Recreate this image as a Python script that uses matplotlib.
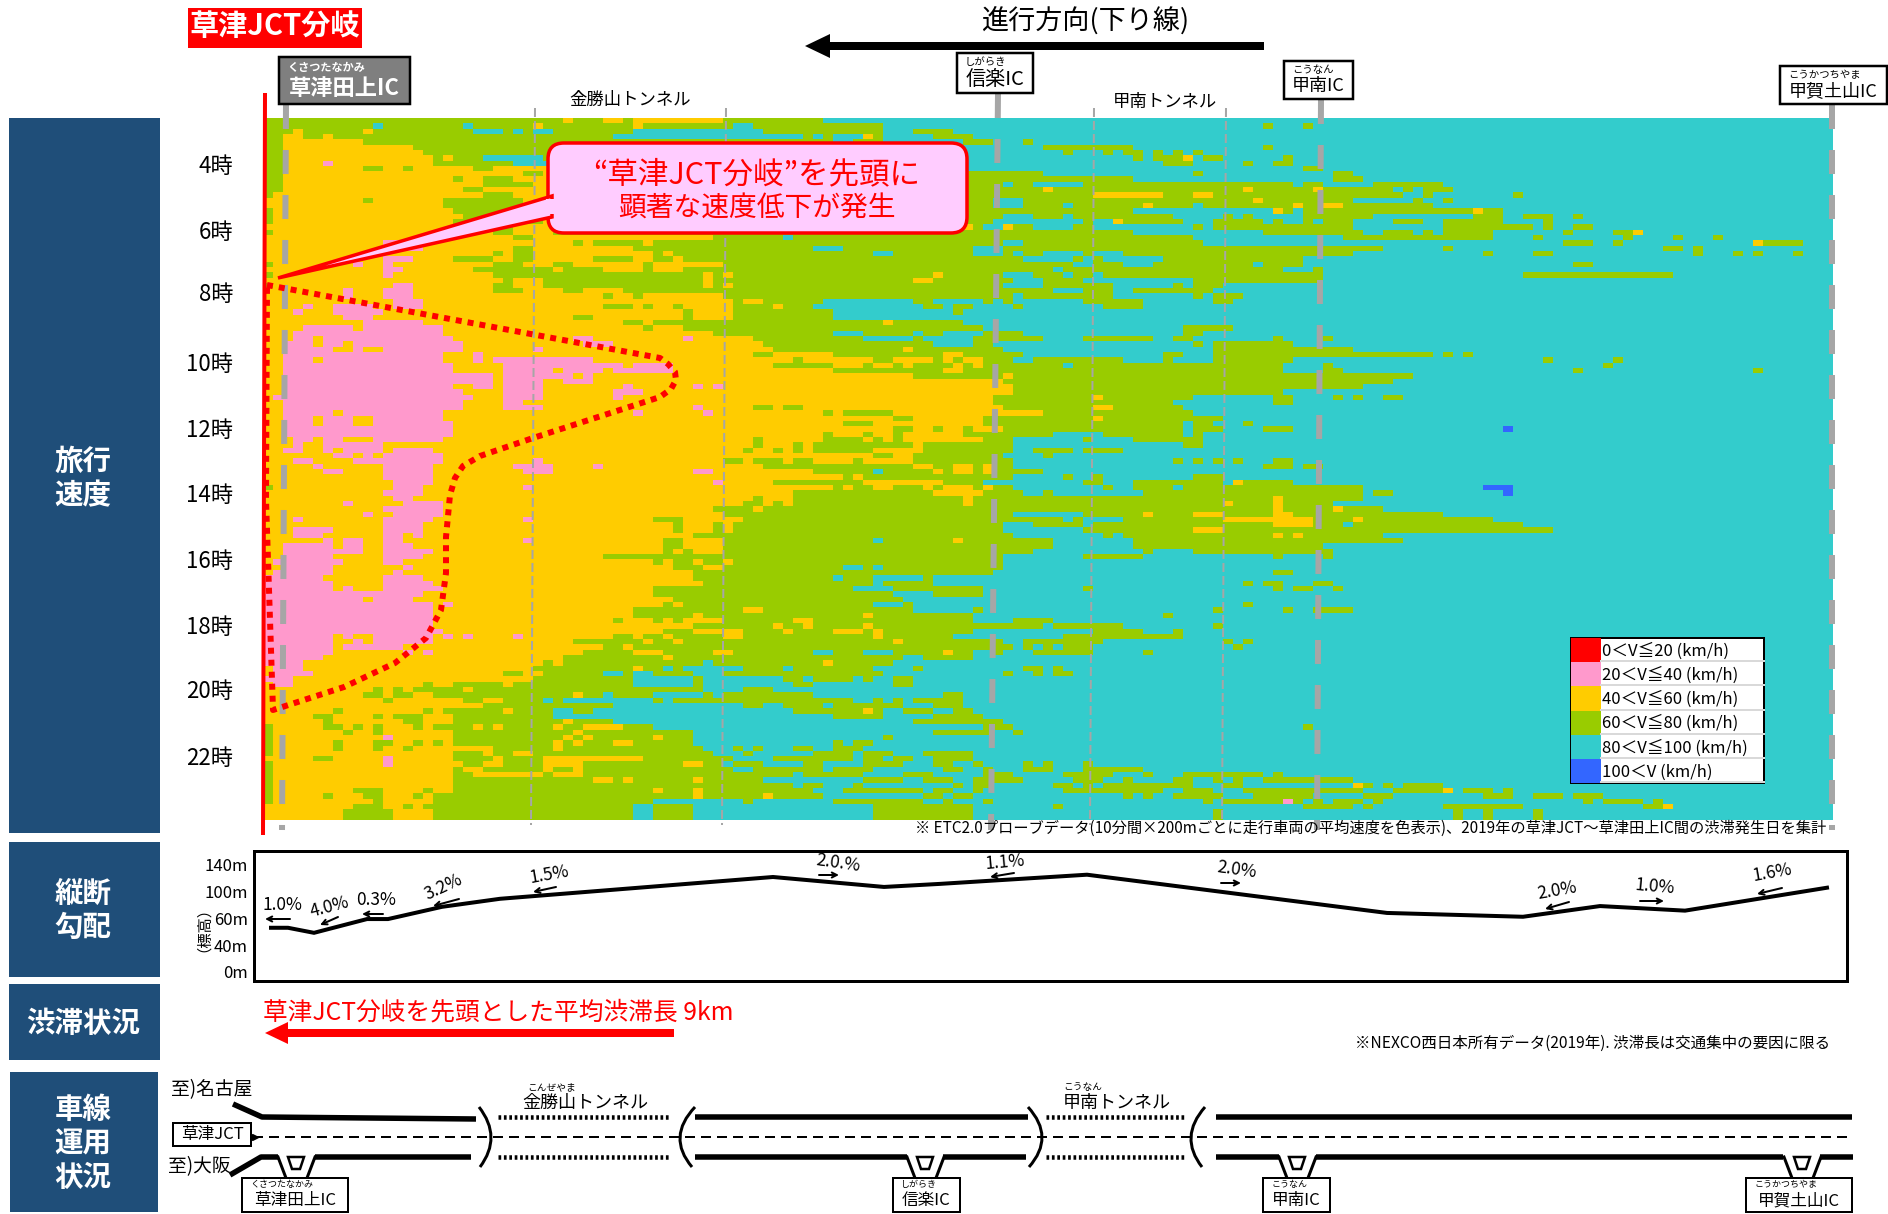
import numpy as np
import matplotlib
matplotlib.use('Agg')
import matplotlib.pyplot as plt
from matplotlib.colors import ListedColormap
from matplotlib.patches import Rectangle, FancyBboxPatch, Polygon, PathPatch
from matplotlib.path import Path

plt.rcParams['font.family'] = ['Noto Sans CJK JP', 'DejaVu Sans']

# ---- data ----
SPEED_CLASSES = ['R', 'P', 'Y', 'G', 'C', 'B']
SPEED_COLORS = ['#FF0000', '#FF99CC', '#FFCC00', '#99CC00', '#33CCCC', '#3366FF']
LEGEND_LABELS = ['0＜V≦20 (km/h)', '20＜V≦40 (km/h)', '40＜V≦60 (km/h)',
                 '60＜V≦80 (km/h)', '80＜V≦100 (km/h)', '100＜V (km/h)']
N_COLS = 157

# each row: speed class + first column of that run
SPEED_ROWS = [
    "G0 Y30 G31 Y34 G36 Y37 G46 C56",
    "G0 C11 G12 C20 G21 Y27 G28 Y37 G38 C47 G49 C62 G100 C101 G104 C105",
    "G0 Y3 G4 Y10 G11 C21 G24 C25 G26 C27 G29 C37 G50 C62 G65 C69",
    "G0 Y2 G4 Y6 G7 C35 G54 C55 G56 C57 Y60 G61 C62 G67 C71",
    "G0 Y2 G10 C57 G59 C62 G70 C73 G76 C77",
    "G0 Y2 G15 C55 G78 C87 G100 C101",
    "G0 Y2 G16 C60 G80 C81 G84 C85 G86 C88 G89 C90 G91 C92 G93 C94",
    "G0 Y2 G17 Y18 G19 C22 G28 C60 G87 C88 G89 Y92 C93 G94 C96 G102 C103",
    "G0 Y2 P6 Y7 G17 C25 G29 C55 G90 C93 G98 C99 G101 C103",
    "G0 Y2 G10 Y12 G14 Y15 G21 Y23 G29 C60 G104 C106",
    "G0 Y2 G26 Y28 G30 C78 G93 C94 G107 C109",
    "G0 Y2 G19 Y20 G22 Y25 G29 C87 G107 C110",
    "G0 Y2 G22 Y27 G29 C74 G75 C77 G82 C103 G104 C106 G111 C118",
    "G0 Y2 G20 Y22 G29 Y78 G79 Y98 G99 Y105 G106 C113 G114 C115 G116 C119",
    "G0 Y1 G22 Y25 G29 Y83 G90 Y93 G95 C114 G116 C117 G125 C126",
    "Y0 G10 Y11 G18 Y26 G30 C73 G76 Y99 G100 C109 G115 C116 G118 C119",
    "Y0 G18 Y27 G30 C73 G76 C80 G81 Y88 G89 C93 G94 Y103 G104 Y106 G108 C117",
    "G0 Y1 G19 Y28 G30 C87 Y101 G102 C103 G104 Y121 G122 C124",
    "G0 Y1 G20 Y28 G30 C74 G77 C80 G81 C91 G96 C97 G98 C99 G104 C111 G121 C124 G126 C129 G131 C132",
    "G0 Y1 G19 Y28 G30 C73 G82 C83 Y85 G86 C92 G95 C100 G101 C102 G104 C105 G106 C109 G113 C116 G118 C124 G128 C129",
    "Y0 G23 Y25 G30 Y70 G71 C72 Y74 G75 C77 G81 C83 G93 C94 G95 C109 G118 C127 G128 C129 G131 C133",
    "G0 Y1 G23 Y25 G29 C87 G100 C110 G112 C115 G116 C117 G118 C123 G130 C131 G135 Y137 C138",
    "Y0 G25 Y27 G45 C52 G53 C93 G108 C123 G127 C128 G136 C137 G141 C142 G145 C146",
    "Y0 P12 Y16 G31 Y32 G33 Y38 G39 C74 G76 C94 G130 C133 G135 C136 Y149 G150 C154",
    "Y0 P13 Y16 G25 Y27 G37 C55 G58 C71 G74 C112 G118 C119 G140 C142 G143 C144",
    "Y0 G23 Y24 G25 Y27 G39 Y40 G41 C61 G63 C71 G74 C75 G76 C78 G82 C83 G86 C109 G122 C123 G127 C129 G143 C144 G147 C148 G149 C150 G153 C154",
    "Y0 P12 Y15 G19 Y23 G25 Y27 G33 Y37 G39 Y41 G42 C76 G81 C82 G83 C84 G90 C104",
    "G0 Y1 P9 Y10 P12 Y13 G23 Y26 G29 Y31 G38 Y39 G46 C81 G83 C86 G89 C99 G100 C104 G131 C133",
    "Y0 P12 Y14 G21 Y29 G30 Y34 G38 Y39 G42 C79 G80 C102 G105 C106",
    "G0 Y1 P12 Y13 G23 Y44 G45 Y46 G47 Y67 G68 C74 G77 C80 G81 C83 G84 C106 G126 C141",
    "Y0 G24 Y25 G28 Y44 G45 Y65 G67 C75 G78 C82 G93 C106",
    "G0 Y1 P13 Y15 G23 Y25 G28 Y44 G45 Y46 G47 C74 G78 C85 G91 C92 G93 C96",
    "Y0 P8 Y9 P12 Y15 G23 Y26 G30 Y32 G36 C79 G82 C85 G87 C95",
    "Y0 P8 Y9 P12 Y15 G34 Y35 G37 Y38 G46 C75 G76 C85 G93 C94 G95 C98",
    "Y0 P13 Y16 G47 Y48 G50 C56 G65 C67 G72 C73 G74 C75 G82 C88 G95 C97",
    "Y0 P4 Y5 P7 Y11 P13 Y16 G34 Y37 G38 Y39 G41 Y42 G47 Y51 G52 C55 G66 C68 G69 C71 G75 C76 G84 C88",
    "Y0 P3 Y4 P7 Y12 G42 Y43 G47 C57 G69 C70",
    "Y0 P8 Y11 G31 Y33 G42 Y43 G47 C57",
    "Y0 P10 Y16 G36 Y38 G39 Y62 G63 C70",
    "Y0 P4 Y9 P10 Y18 G38 Y39 G42 C72 G92 C97",
    "Y0 P3 Y18 G45 C57 G60 C65 G66 C68 G72 C76 G92 C94",
    "Y0 P3 Y5 P6 Y19 P31 Y33 P42 Y43 G49 C60 G65 C66 G71 C78 G82 C89 G91 C93 G101 C102 G106 C107",
    "Y0 P2 Y5 P6 Y8 P9 Y20 P32 Y35 G50 C67 G71 C73 G93 C94 G95 C103",
    "Y0 P2 Y7 P9 Y10 P12 Y20 P27 Y28 G51 Y64 G65 C74 G95 C109",
    "Y0 P2 Y18 P21 Y22 G49 Y51 G57 Y68 G70 C76 G90 C92 G95 C117 G118 C119 G120 C121",
    "Y0 P2 Y5 P6 Y18 P21 Y22 P23 Y33 G53 Y54 G61 Y63 G67 Y68 G69 Y70 G72 C75 G77 C86 G90 C91 G95 C103 G128 C129 G135 C136",
    "Y0 P2 Y19 P24 Y36 P37 Y41 G51 Y57 G60 Y61 G63 Y64 G65 Y69 G70 Y71 G72 C80 G81 C102 G106 C107 G134 C135",
    "Y0 P2 Y19 P24 Y29 P30 Y34 P35 Y41 G57 Y68 G70 C102 G106 C108 G131 C132 G149 C150",
    "Y0 P2 Y23 P24 Y31 P32 Y33 G65 Y74 G75 C115",
    "Y0 P2 Y23 P24 Y28 P30 Y33 G74 C113",
    "Y0 P2 Y19 P21 Y23 P24 Y28 P36 Y37 P43 Y44 P45 Y46 G75 C110",
    "Y0 P2 Y20 P24 Y28 P35 Y38 G75 C102",
    "Y0 P1 Y21 P24 Y28 P35 Y36 G73 Y83 G84 C93 G101 C103 G107 C108 G109 C110 G112 C114",
    "Y0 P2 Y20 P24 Y26 G73 C91 G101 C103",
    "Y0 P2 Y20 P24 Y28 P43 Y44 G49 Y51 G52 Y54 G74 Y83 G85 C92",
    "Y0 P2 Y7 P8 Y18 P37 Y38 P44 Y45 G56 Y57 G58 Y63 G78 C93",
    "Y0 P2 Y5 P6 Y9 P11 Y18 G63 Y65 G72 Y83 G84 C96",
    "Y0 P2 Y5 P6 Y9 P11 Y19 G58 Y61 G72 C92 G93 C95 G98 C99",
    "Y0 P2 Y19 G63 Y65 G67 Y68 G70 Y71 G74 C92 G93 C96 G100 C103 B124 C125",
    "Y0 P2 Y19 G56 Y57 G60 Y61 G63 Y64 G70 C79 G84 C92 G93 C94",
    "Y0 P3 Y5 P6 Y8 P11 Y18 G49 Y50 G56 Y60 G61 Y62 G63 Y64 G72 C75 G82 C83 G87 C94",
    "Y0 P3 Y4 P6 Y12 G49 Y50 G53 Y54 G55 Y65 G66 C75 G92 C94",
    "Y0 P2 Y4 P6 Y7 P8 Y12 P13 Y17 G48 Y49 G51 Y52 G53 Y54 G55 Y61 G66 C75 G77 C81 G82 C86",
    "Y0 P7 Y9 P10 Y11 P12 Y18 G61 Y63 G65 C74 G78 C79",
    "Y0 P3 Y5 P9 Y18 P27 Y28 G46 Y48 G49 Y52 G53 Y55 G59 Y60 G65 C75 G91 C92 G93 C94 G95 C96 G97 C98 G101 C103",
    "Y0 P5 Y6 P12 Y17 P25 Y29 P33 Y34 G50 Y65 G67 Y69 G71 Y72 G73 C75 G100 C103 G104 C106",
    "Y0 P6 Y8 P12 Y17 P26 Y29 P43 Y45 G55 C61 G62 Y67 G68 Y69 G71 Y72 G73 C78",
    "Y0 P12 Y17 G58 Y59 G60 C75 G80 C81 G83 C84 G93 C96",
    "Y0 P13 Y17 P45 Y46 G51 Y60 G68 C72 G82 C84 G87 C96 Y97 G98 C103",
    "G0 Y1 P13 Y16 P26 Y27 G57 Y58 G59 Y61 G63 Y66 G67 Y68 G71 Y72 G73 C75 G84 C85 G87 C91 G92 C110 B122 C125",
    "Y0 P12 Y16 G53 Y67 G72 C76 G78 C79 G88 C110 G111 C113 B124 C125",
    "Y0 P13 Y15 G49 Y50 G53 Y70 G71 Y101 G102 C110",
    "Y0 P8 Y9 P14 Y18 G48 Y50 G51 Y52 G53 Y70 G71 Y96 G97 Y101 G102 C107",
    "Y0 P12 Y18 G45 Y49 G50 Y101 G102 Y107 G108 C112",
    "Y0 P10 Y11 P13 Y18 G46 C75 G82 Y88 G89 Y93 G96 Y101 G103 C118",
    "Y0 P3 Y4 P12 Y17 P26 Y27 G39 Y42 G48 C80 G81 C82 G86 Y96 G105 Y109 G110 C123",
    "Y0 P12 Y16 G41 Y42 G45 Y46 G47 C74 G77 C82 G83 Y101 G105 C108 G109 C126",
    "Y0 P3 Y7 P12 Y16 G41 Y42 G45 Y46 G47 C74 G82 Y93 G96 C129",
    "Y0 P3 Y6 P12 Y14 P15 Y16 G43 C75 G84 C85 G86 Y101 G102 Y103 G104 C112",
    "Y0 P6 Y7 P8 Y10 P12 Y14 P26 Y27 G40 Y42 G46 C61 G62 Y69 G70 C79 G87 C114",
    "Y0 P2 Y7 P8 Y10 P12 Y15 G40 Y42 G46 C79 G87 C106",
    "Y0 P2 Y10 P12 Y17 G40 Y41 G42 Y43 G46 C77 G88 C89 G93 C107",
    "Y0 P2 Y7 P12 Y16 G34 C74 G82 C88 G101 C102 G106 C107",
    "Y0 P1 Y8 P12 Y14 G39 Y40 G41 Y43 G44 Y46 G47 C74",
    "Y0 P2 Y7 P14 Y15 G41 Y44 G46 C58 G60 C61 G62 C74",
    "Y0 P1 Y7 P13 Y14 G43 C73 G101 C103",
    "P0 Y6 P12 Y16 G43 C57 G58 C61 G66 C67",
    "P0 Y7 P12 Y17 G44 C61 G62 C67 G98 C99 G100 C102 G105 C107",
    "P0 Y7 P8 Y9 P12 Y18 G39 C59 G63 C72 G82 C83 G101 C102 G103 C105 G107 C108",
    "P0 Y16 G39 C63 G67 C72",
    "P0 Y10 P11 Y15 G41 C64",
    "P0 Y17 P18 Y19 G40 Y41 G42 C61 G64 C65 G98 C99",
    "P0 Y17 G37 Y48 G50 C65 G71 C72 G95 C96 G102 C103 G105 C109",
    "P0 Y17 G37 Y43 G44 Y60 G61 C71 G90 C91",
    "P0 Y17 G35 Y36 G39 Y40 G41 Y42 G46 Y53 G55 C71 G75 C79",
    "P0 Y17 G43 Y51 G52 Y54 G55 Y60 G61 C78 G79 C86 G95 C96",
    "P0 Y18 G40 Y43 G48 Y52 G53 Y57 G60 Y61 G62 C71 G83 C88 G91 C92",
    "P0 Y7 P8 Y9 P11 Y17 P18 Y19 P20 Y21 P25 Y26 G35 Y37 G38 Y40 G41 Y46 G48 Y61 G62 C69 G80 C92",
    "P0 Y7 P9 Y10 P11 Y17 G31 Y38 G39 Y41 G42 Y63 G64 C74 G76 C84 G96 C97 G98 C99",
    "P0 Y7 P8 Y14 G34 Y36 G37 C75 G76 C77 G78 C79 G80 C83 G97 C98",
    "P0 Y7 P14 Y15 P16 Y17 G32 Y37 G40 Y45 G47 C55 G57 C60 G63 Y68 G69 C71 G73 C74 G77 C83 G88 C89",
    "P0 Y6 G30 Y40 G41 C64 G66 C71",
    "P0 Y4 G28 Y29 G30 C44 G45 Y56 G57 C63",
    "Y0 P1 Y4 G27 Y37 G38 C40 G41 C42 G48 C52 G53 C61 G65 C66 G76 C78 G79 C80",
    "Y0 P1 Y5 G24 Y26 G28 C34 G36 C37 G39 C43 G46 C62 G74 C75 G77 C78 G79 C81",
    "P0 Y3 G27 C37 G43 C44 G52 C54 G55 C59 G60 C61 G63 C65",
    "Y0 P1 Y3 G16 Y17 G19 Y24 G25 C37 G43 C44 G53 C55 G63 C65",
    "Y0 G11 Y12 G13 Y14 G15 Y20 G21 C44 G48 C51",
    "Y0 G10 Y12 G13 Y15 G17 Y31 G32 C34 G35 C39 G44 C45 G46 C55 G68 C70",
    "Y0 G12 Y13 G20 Y22 G24 C28 G29 C30 G39 C40 G41 C59 G61 C62 G63 C64 G65 C70",
    "Y0 G22 C35 G48 C50 G52 C56 G57 C64 G67 C70",
    "Y0 G7 Y8 G16 Y17 G18 Y24 G25 C29 G31 C33 G53 Y60 G61 C62 G64 C67 G69 C71",
    "Y0 G5 Y7 G11 Y12 G13 Y16 G19 C29 G57 C62 G67 C72",
    "Y0 G6 Y7 G14 Y16 G19 Y30 G31 C35 G65 C74",
    "G0 Y1 G6 Y8 G9 Y10 G11 Y12 G15 Y16 G17 Y21 G22 Y23 G24 Y29 G30 Y32 G36 C39 G72 C75 G104 C105",
    "G0 Y1 G8 Y9 G11 Y12 G19 Y31 G32 C43 G67 C73 G75 C76",
    "G0 Y1 P12 Y13 G19 Y30 G31 Y32 G33 Y39 G40 C43 G62 C63",
    "G0 Y1 G7 Y8 G11 Y13 G15 Y16 G17 Y18 G19 Y29 G30 Y31 G32 Y35 G37 C43 G57 C58 G59 C61",
    "G0 Y1 G7 Y8 G11 Y12 G14 Y15 G23 Y29 G30 C44 G47 C48 G49 C50 G53 C55 G57 C60",
    "G0 Y1 G19 Y22 G23 Y25 G27 C45 G48 C49 G55 C59 G60 C63 G66 C71",
    "Y0 G5 Y7 P12 Y13 G19 Y23 G24 Y28 G38 C47 G51 C59 G60 C62 G63 C65 G67 C71",
    "G0 Y1 P12 Y13 G20 Y22 G24 Y28 G32 Y42 G44 C46 G47 C50 G54 C56 G60 C64 G67 C69 G71 C72 G76 C77 G78 C79 G82 C83",
    "G0 Y1 G19 Y20 G22 Y28 G29 Y31 G32 C47 G49 C56 G57 C61 G68 C70 G72 C73 G76 C79 G82 C88",
    "G0 Y1 G19 Y21 G28 Y29 G32 C53 G54 C60 G64 C67 G72 C75 G80 C85 G88 C89 G92 C100 G101 C102",
    "G0 Y1 G19 Y33 G35 Y36 G37 Y43 G44 C50 G60 C64 G66 C69 G71 C75 G75 C76 G81 C84 G86 C87 G91 C93 G95 C96 G97 C98 G100 C109",
    "G0 Y1 G19 C53 G54 C56 G59 C60 G69 C70 G71 C73 G79 C81 G82 C83 G84 C93 G96 C98 Y109 G110 C111 G112 C113 G114 C118",
    "G0 Y1 G9 Y12 G16 Y17 G19 Y39 G40 Y43 G44 C55 G58 C66 G67 C69 G71 C72 G80 C90 G92 C95 G98 C110 G113 Y118 C119 G120 C123 G124 C125",
    "G0 Y1 G6 Y7 G10 Y12 G15 Y16 G17 Y43 G44 Y50 G51 C56 G66 C68 G69 C71 G86 C87 G88 C89 G91 C96 G99 C105 G110 C113 G122 C125 G127 C130 G131 C134",
    "G0 Y1 G11 Y12 G17 C39 G48 C49 G57 C66 G68 C69 G72 C73 G94 C95 G96 P102 G103 C104 G105 C106 G107 C110 G111 C112 G132 C133 G134 C138 G139 C140",
    "Y0 G9 Y12 G14 Y15 G16 C37 G39 C43 G61 C71 G79 C80 G104 C109 G110 C111 G118 C126 G138 Y140 C141",
    "Y0 G8 Y13 G17 C37 G39 C43 G61 C71 G95 C96 G119 C120 G122 C123 G127 C128",
    "Y0 G8 Y13 G17 C37 G39 C43 G61 C71 G95 C96 G119 C120 G122 C123 G127 C128",
]

HOUR_LABELS = ['4時', '6時', '8時', '10時', '12時', '14時', '16時', '18時', '20時', '22時']
HOUR_ROWS = [8.2, 20.6, 32.2, 45.3, 57.8, 70.1, 82.5, 94.9, 106.9, 119.5]

# elevation profile (km from 草津JCT, m on the chart's own scale)
ELEV_KM = [0.16, 0.5, 1.02, 2.08, 2.5, 3.58, 4.74, 10.2, 12.42, 13.54, 16.48, 22.48, 25.2, 26.74, 28.44, 31.28]
ELEV_M = [57.6, 57.6, 51, 69, 69, 85, 95.5, 124, 111, 115, 127, 77, 72, 86, 80, 110]
ELEV_TICKS = [0, 35, 70, 105, 140]
ELEV_LABELS = ['0m', '40m', '60m', '100m', '140m']

SLOPE_LABELS = ['1.0%', '4.0%', '0.3%', '3.2%', '1.5%', '2.0.%', '1.1%', '2.0%', '2.0%', '1.0%', '1.6%']
SLOPE_X = [282, 330, 376, 443, 549, 838, 1005, 1237, 1557, 1655, 1772]
SLOPE_Y = [905, 907, 900, 887, 875, 863, 862, 870, 891, 887, 873]
SLOPE_ROT = [0, 15, 0, 25, 10, -8, 5, -8, 10, -5, 10]
SLOPE_ARROWS = [(290, 919, 265, 919), (338, 917, 320, 925), (383, 914, 362, 914), (459, 899, 433, 906),
                (556, 887, 533, 892), (819, 875, 839, 875), (1014, 873, 990, 877), (1221, 883, 1241, 883),
                (1569, 902, 1545, 909), (1640, 901, 1664, 901), (1782, 888, 1757, 894)]


def parse_row(text):
    row = np.full(N_COLS, SPEED_CLASSES.index('C'))
    tokens = [(int(t[1:]), t[0]) for t in text.split()]
    tokens.sort()
    for i, (start, cls) in enumerate(tokens):
        end = tokens[i + 1][0] if i + 1 < len(tokens) else N_COLS
        row[start:end] = SPEED_CLASSES.index(cls)
    return row


def px(v):
    return v * 0.72


fig = plt.figure(figsize=(18.88, 12.14), dpi=100)
W, H = 1888, 1214


def axes_px(x0, y0, x1, y1, **kw):
    return fig.add_axes([x0 / W, 1 - y1 / H, (x1 - x0) / W, (y1 - y0) / H], **kw)


# ---- heatmap ----
ax_h = axes_px(263, 118, 1833, 820)
grid = np.array([parse_row(r) for r in SPEED_ROWS])
ax_h.imshow(grid, cmap=ListedColormap(SPEED_COLORS), vmin=0, vmax=5, aspect='auto', interpolation='nearest')
ax_h.set_xticks([])
ax_h.set_yticks(HOUR_ROWS)
ax_h.set_yticklabels(HOUR_LABELS, fontsize=16)
ax_h.tick_params(axis='y', length=0, pad=px(30))
for s in ax_h.spines.values():
    s.set_visible(False)

# ---- elevation ----
ax_e = axes_px(254, 851, 1847, 981)
ax_e.plot(ELEV_KM, ELEV_M, color='black', lw=px(4), solid_joinstyle='miter')
ax_e.set_xlim(-0.18, 31.68)
ax_e.set_ylim(-12, 158)
ax_e.set_xticks([])
ax_e.set_yticks(ELEV_TICKS)
ax_e.set_yticklabels(ELEV_LABELS, fontsize=12)
ax_e.tick_params(axis='y', length=0, pad=px(6))
for s in ax_e.spines.values():
    s.set_linewidth(px(3))

# ---- overlay in figure pixels ----
ax = fig.add_axes([0, 0, 1, 1], zorder=5)
ax.set_xlim(0, W)
ax.set_ylim(H, 0)
ax.axis('off')
ax.patch.set_alpha(0)

# side headers
NAVY = '#1F4E79'
for x0, y0, x1, y1 in [(9, 118, 160, 833), (9, 842, 160, 977), (9, 984, 160, 1060), (10, 1072, 158, 1212)]:
    ax.add_patch(Rectangle((x0, y0), x1 - x0, y1 - y0, fc=NAVY, ec='none'))
for txt, x, y in [('旅行', 83, 462), ('速度', 83, 496), ('縦断', 83, 894), ('勾配', 83, 928), ('渋滞状況', 83, 1024),
                  ('車線', 83, 1110), ('運用', 83, 1144), ('状況', 83, 1178)]:
    ax.text(x, y, txt, color='white', fontsize=20.5, fontweight='bold', ha='center', va='center')

# top header
ax.add_patch(Rectangle((188, 8), 174, 40, fc='#FF0000', ec='none'))
ax.text(275, 26, '草津JCT分岐', color='white', fontsize=21, fontweight='bold', ha='center', va='center')
ax.text(1085, 21, '進行方向(下り線)', fontsize=19.5, ha='center', va='center')
ax.add_patch(Polygon([(805, 46), (830, 34), (830, 42), (1264, 42), (1264, 50), (830, 50), (830, 58)], fc='black', ec='none'))


def sign(x0, y0, x1, y1, ruby, name, fc='white', tc='black', size=14, ruby_size=7.5, lw=2.5, ruby_dy=10):
    ax.add_patch(Rectangle((x0, y0), x1 - x0, y1 - y0, fc=fc, ec='black', lw=px(lw), zorder=6))
    ax.text(x0 + 8, y0 + ruby_dy, ruby, color=tc, fontsize=ruby_size, ha='left', va='center', zorder=7,
            fontweight='bold' if fc != 'white' else 'normal')
    ax.text((x0 + x1) / 2, y0 + (y1 - y0) * 0.66, name, color=tc, fontsize=size, ha='center', va='center', zorder=7,
            fontweight='bold' if fc != 'white' else 'normal')


sign(279, 57, 410, 104, 'くさつたなかみ', '草津田上IC', fc='#7F7F7F', tc='white', size=16, ruby_size=8)
sign(957, 53, 1033, 93, 'しがらき', '信楽IC', size=14.5, ruby_dy=9)
sign(1284, 61, 1353, 99, 'こうなん', '甲南IC', size=13, ruby_dy=9)
sign(1780, 66, 1887, 104, 'こうかつちやま', '甲賀土山IC', size=13, ruby_dy=9)

# vertical guides
for x_top, x_bot, y_top in [(286, 282, 105), (998, 991, 94), (1321, 1317, 100), (1832, 1832, 105)]:
    ax.plot([x_top, x_bot], [y_top, 830], color='#A6A6A6', lw=px(6), ls=(0, (4, 3.5)), zorder=2)
for x_top, x_bot in [(535, 531), (726, 722), (1094, 1090), (1226, 1222)]:
    ax.plot([x_top, x_bot], [108, 825], color='#A6A6A6', lw=px(2), ls=(0, (4.5, 2)), zorder=2)
ax.plot([265, 263], [95, 833], color='#FF0000', lw=px(4), zorder=3)
ax.text(630, 100, '金勝山トンネル', fontsize=12.5, ha='center', va='center')
ax.text(1165, 102, '甲南トンネル', fontsize=12.5, ha='center', va='center')

# callout
ax.add_patch(FancyBboxPatch((560, 155), 395, 66, boxstyle='round,pad=12,rounding_size=16', fc='#FFCCFF', ec='#FF0000',
                            lw=px(3.5), zorder=3))
ax.add_patch(Polygon([(552, 196), (278, 278), (552, 217)], closed=True, fc='#FFCCFF', ec='#FF0000', lw=px(3.5),
                     joinstyle='miter', zorder=4))
ax.add_patch(Polygon([(546, 199), (556, 199), (556, 214), (546, 214)], fc='#FFCCFF', ec='none', zorder=4))
ax.text(757, 175, '“草津JCT分岐”を先頭に', color='#FF0000', fontsize=22, ha='center', va='center', zorder=5)
ax.text(757, 209, '顕著な速度低下が発生', color='#FF0000', fontsize=20, ha='center', va='center', zorder=5)

# dotted outline of the low speed area
dot_x = [267, 660, 668, 675, 676, 671, 660, 533, 480, 463, 455, 450, 446, 446, 441, 426, 395, 344, 273, 266, 267]
dot_y = [285, 358, 364, 372, 380, 389, 397, 438, 456, 466, 478, 495, 537, 573, 610, 638, 663, 687, 710, 500, 285]
ax.plot(dot_x, dot_y, color='#FF0000', lw=px(6), ls=(0, (1, 1)), zorder=4)

# legend
lx0, lx1, ly0, ly1 = 1571, 1764, 638, 783
ax.add_patch(Rectangle((lx0, ly0), lx1 - lx0, ly1 - ly0, fc='white', ec='black', lw=px(2), zorder=6))
row_h = (ly1 - ly0) / len(LEGEND_LABELS)
for i, (c, lab) in enumerate(zip(SPEED_COLORS, LEGEND_LABELS)):
    y = ly0 + i * row_h
    ax.add_patch(Rectangle((lx0, y), 30, row_h, fc=c, ec='none', zorder=7))
    ax.plot([lx0 + 30, lx1], [y + row_h - 1, y + row_h - 1], color='#D9D9D9', lw=px(2), zorder=7)
    ax.text(lx0 + 31, y + row_h / 2 + 1, lab, fontsize=12, ha='left', va='center', zorder=8)

ax.text(1826, 828, '※ ETC2.0プローブデータ(10分間×200mごとに走行車両の平均速度を色表示)、2019年の草津JCT～草津田上IC間の渋滞発生日を集計',
        fontsize=11, ha='right', va='center')

# slope annotations
for lab, x, y, r in zip(SLOPE_LABELS, SLOPE_X, SLOPE_Y, SLOPE_ROT):
    ax.text(x, y, lab, fontsize=12.5, ha='center', va='center', rotation=r)
for x0, y0, x1, y1 in SLOPE_ARROWS:
    ax.annotate('', xy=(x1, y1), xytext=(x0, y0), arrowprops=dict(arrowstyle='->', lw=px(2), color='black',
                                                                  shrinkA=0, shrinkB=0, mutation_scale=9))
ax.text(195, 921, '（標高）', fontsize=11, rotation=90, ha='center', va='center')

# congestion row
ax.text(263, 1012, '草津JCT分岐を先頭とした平均渋滞長 9km', color='#FF0000', fontsize=17.8, ha='left', va='center')
ax.add_patch(Polygon([(265, 1033), (288, 1022), (288, 1029), (674, 1029), (674, 1037), (288, 1037), (288, 1044)],
                     fc='#FF0000', ec='none'))
ax.text(1830, 1043, '※NEXCO西日本所有データ(2019年). 渋滞長は交通集中の要因に限る', fontsize=11.2, ha='right', va='center')

# lane diagram
LANE = dict(color='black', lw=px(5.5), solid_capstyle='butt')
ax.plot([233, 262, 476], [1104, 1117, 1119], **LANE)
for x0, x1 in [(695, 1028), (1216, 1852)]:
    ax.plot([x0, x1], [1117, 1117], **LANE)
ax.plot([230, 261, 278], [1175, 1157, 1157], **LANE)
for x0, x1 in [(315, 471), (695, 907), (943, 1026), (1216, 1279), (1316, 1783), (1820, 1853)]:
    ax.plot([x0, x1], [1157, 1157], **LANE)
for x0, x1 in [(498, 670), (1046, 1185)]:
    for y in (1117, 1157):
        ax.plot([x0, x1], [y, y], color='black', lw=px(4.5), ls=(0, (0.6, 0.6)))
ax.plot([253, 1847], [1137, 1137], color='black', lw=px(2), ls=(0, (5, 3)))
ax.plot([255], [1137], marker='>', color='black', ms=4)

for x0, xm, x1 in [(479, 491, 480), (695, 680, 692), (1028, 1042, 1029), (1205, 1191, 1202)]:
    ctrl = 2 * xm - (x0 + x1) / 2
    path = Path([(x0, 1107), (ctrl, 1137), (x1, 1167)], [Path.MOVETO, Path.CURVE3, Path.CURVE3])
    ax.add_patch(PathPatch(path, fc='none', ec='black', lw=px(3)))

for xc in [296, 925, 1297, 1802]:
    ax.plot([xc - 18, xc - 10], [1157, 1178], color='black', lw=px(3))
    ax.plot([xc + 19, xc + 11], [1157, 1178], color='black', lw=px(3))
    ax.add_patch(Polygon([(xc - 8, 1157), (xc + 8, 1157), (xc + 4, 1169), (xc - 4, 1169)], fc='white', ec='black', lw=px(2.5)))

sign(242, 1178, 348, 1212, 'くさつたなかみ', '草津田上IC', size=12, ruby_size=6.5, lw=2, ruby_dy=7)
sign(893, 1178, 960, 1212, 'しがらき', '信楽IC', size=12, ruby_size=6.5, lw=2, ruby_dy=7)
sign(1263, 1178, 1330, 1212, 'こうなん', '甲南IC', size=12, ruby_size=6.5, lw=2, ruby_dy=7)
sign(1746, 1178, 1852, 1212, 'こうかつちやま', '甲賀土山IC', size=12, ruby_size=6.5, lw=2, ruby_dy=7)

ax.text(212, 1090, '至)名古屋', fontsize=13.5, ha='center', va='center')
ax.text(199, 1167, '至)大阪', fontsize=13.5, ha='center', va='center')
ax.add_patch(Rectangle((173, 1123), 78, 23, fc='white', ec='black', lw=px(2), zorder=6))
ax.text(212, 1135, '草津JCT', fontsize=12, ha='center', va='center', zorder=7)
ax.text(585, 1103, '金勝山トンネル', fontsize=13, ha='center', va='center')
ax.text(552, 1087, 'こんぜやま', fontsize=7, ha='center', va='center')
ax.text(1117, 1103, '甲南トンネル', fontsize=13, ha='center', va='center')
ax.text(1083, 1087, 'こうなん', fontsize=7, ha='center', va='center')

fig.savefig('out.png', dpi=100, facecolor='white')
